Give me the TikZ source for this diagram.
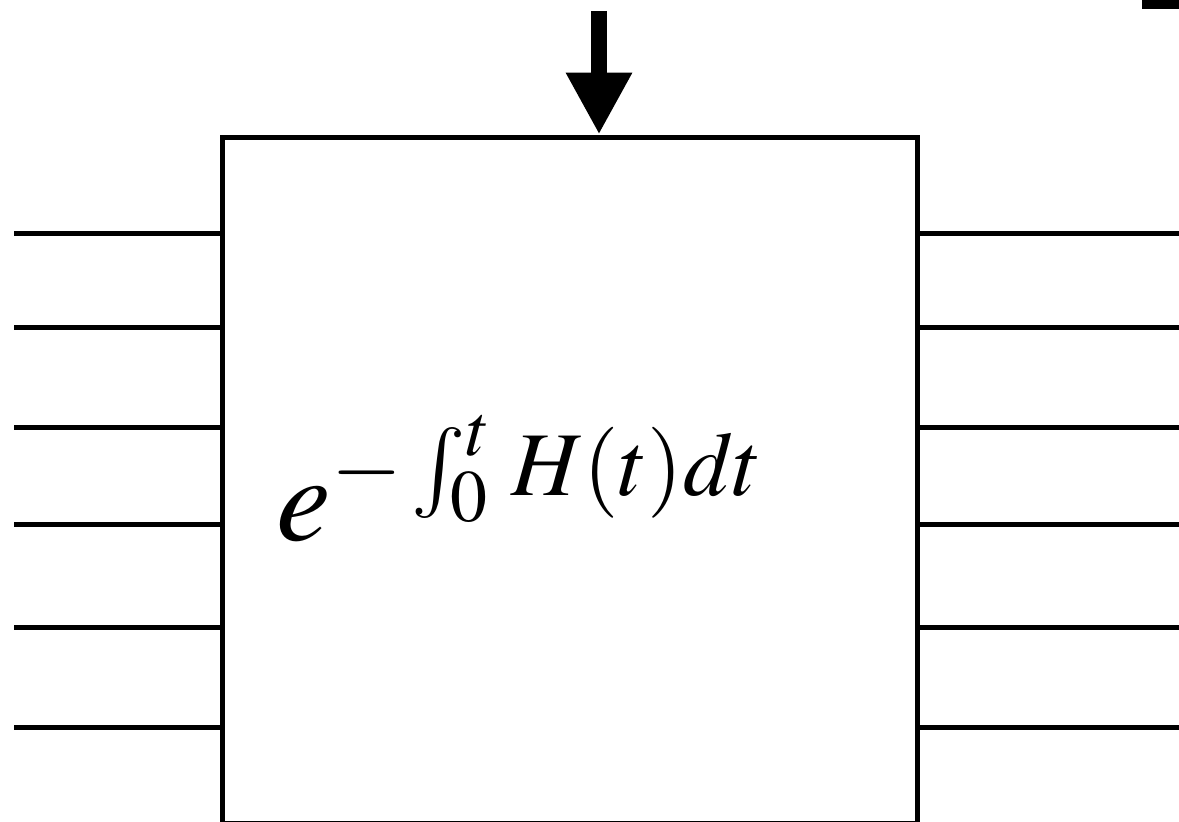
\documentclass[tikz,border=0pt]{standalone}
\usepackage{mathptmx}
\usetikzlibrary{arrows.meta}
\tikzset{
  wire/.style={line width=0.1cm},
  blockbox/.style={draw,line width=0.1cm,minimum width=13.92cm,minimum height=13.74cm,inner sep=0pt},
  bigarrow/.style={line width=0.32cm,-{Triangle[width=1.24cm,length=1.24cm]}}
}
\begin{document}
\begin{tikzpicture}[x=0.02cm,y=-0.02cm]
        \useasboundingbox (0,0) rectangle (1179,821);
        \node[blockbox] (blk) at (570,480.5) {};
        \node[anchor=base] (expo) at (520,540)
            {\fontsize{70}{80}\selectfont $e^{-\int_0^t\, H(t)dt}$};
        \coordinate (src) at (599,11);
        \draw[bigarrow] (src) -- (blk.north -| src);
        \foreach \y in {233,327,427,524,627,727} {
            \coordinate (inw) at (14,\y);
            \coordinate (outw) at (1179,\y);
            \draw[wire] (inw) -- (blk.west |- inw);
            \draw[wire] (blk.east |- outw) -- (outw);
        }
        \fill (1142,0) rectangle (1179,9);
    \end{tikzpicture}
\end{document}
